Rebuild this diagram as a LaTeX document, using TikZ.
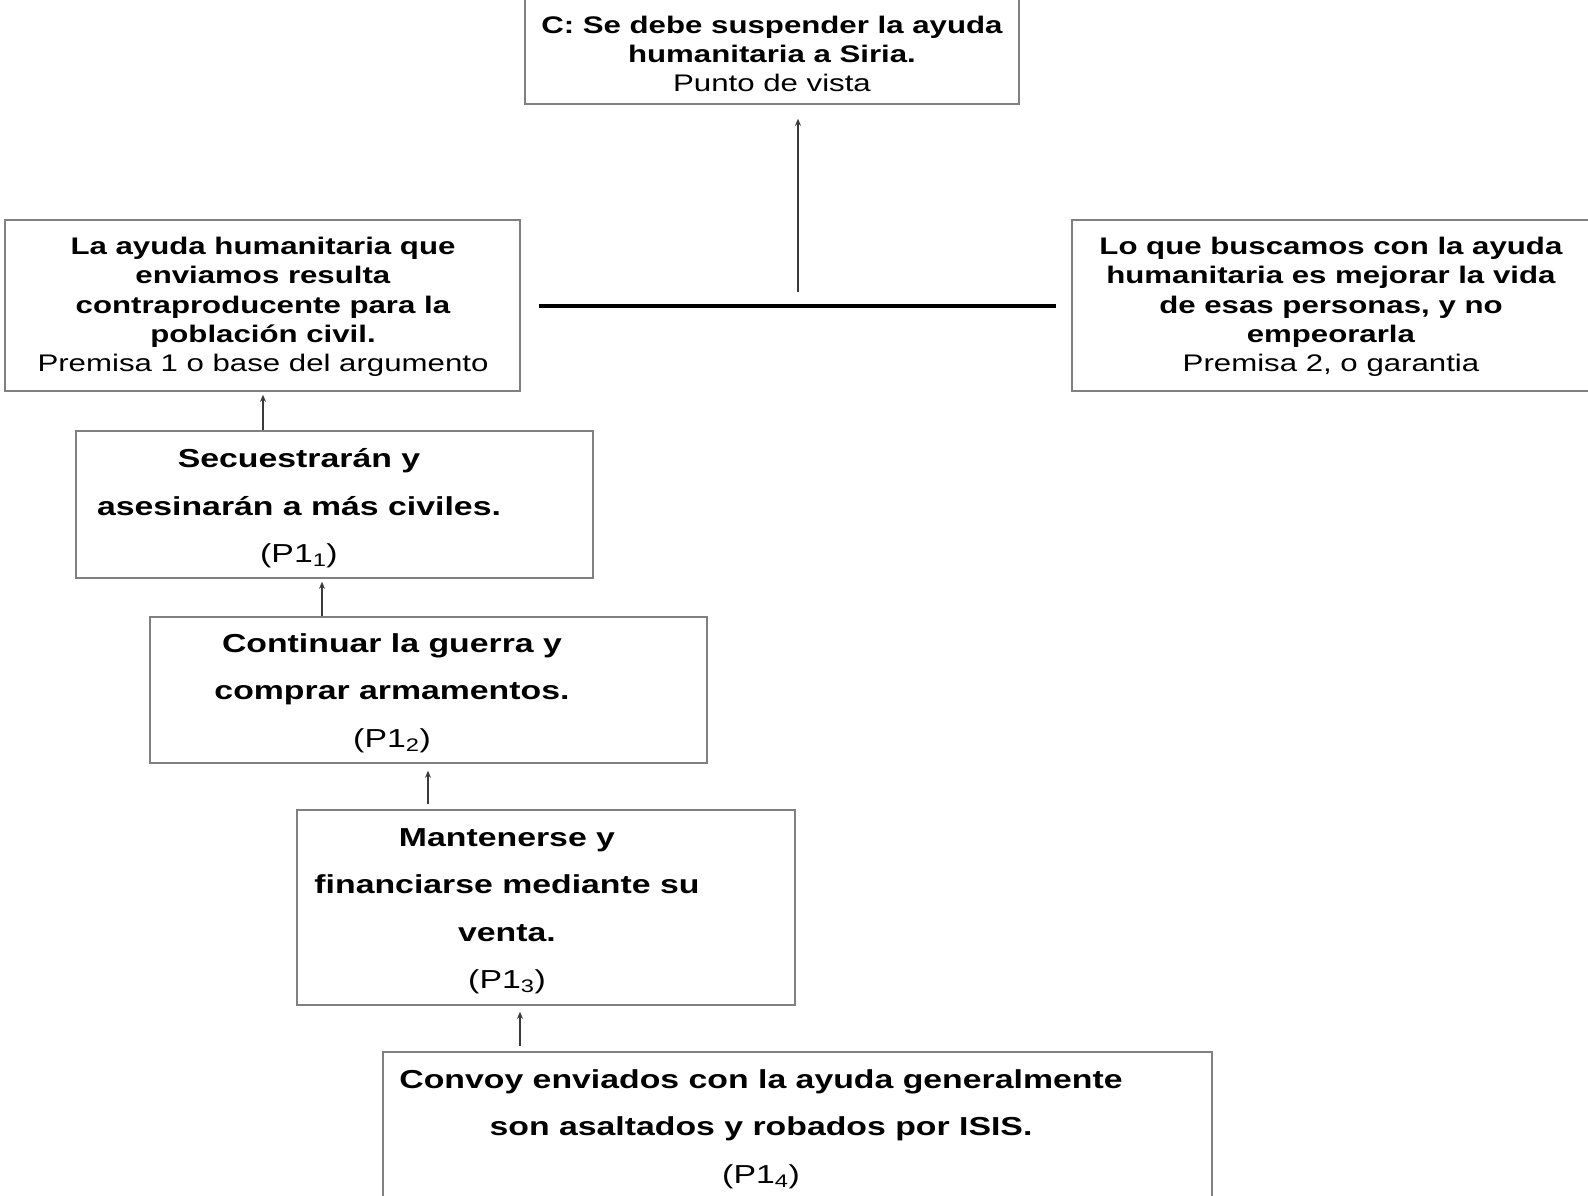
\documentclass[tikz,border=0pt]{standalone}
\usepackage{fontspec}
\setmainfont[FakeStretch=1.3]{Liberation Sans}
\usetikzlibrary{calc,arrows.meta}
\definecolor{boxgray}{HTML}{808080}
\definecolor{arrgray}{HTML}{3A3A3A}
\begin{document}
\begin{tikzpicture}[x=1pt,y=-1pt,
  box/.style={draw=boxgray, line width=1.6pt, rectangle, inner sep=0pt},
  up/.style={align=center, font=\fontsize{24}{29.3}\selectfont, inner sep=0pt},
  low/.style={align=center, font=\fontsize{26}{47.5}\selectfont, inner sep=0pt},
  arr/.style={draw=arrgray, line width=1.3pt, -{Stealth[length=7pt,width=6pt]}}]
\useasboundingbox (0,0) rectangle (1588,1195);
% boxes
\node[box, minimum width=494pt, minimum height=109pt] (C) at (772,49.5) {};
\node[box, minimum width=515pt, minimum height=171pt] (P1) at (262.5,305.5) {};
\node[box, minimum width=528pt, minimum height=171pt] (P2) at (1336,305.5) {};
\node[box, minimum width=517pt, minimum height=147pt] (B1) at (334.5,504.5) {};
\node[box, minimum width=557pt, minimum height=146pt] (B2) at (428.5,690) {};
\node[box, minimum width=498pt, minimum height=195pt] (B3) at (546,907.5) {};
\node[box, minimum width=829pt, minimum height=158pt] (B4) at (797.5,1131) {};
% texts
\node[up] (tC) at (772,54) {\textbf{C: Se debe suspender la ayuda}\\\textbf{humanitaria a Siria.}\\Punto de vista};
\node[up] (tP1) at (263,307) {\textbf{La ayuda humanitaria que}\\\textbf{enviamos resulta}\\\textbf{contraproducente para la}\\\textbf{población civil.}\\Premisa 1 o base del argumento};
\node[up] (tP2) at (1331,307) {\textbf{Lo que buscamos con la ayuda}\\\textbf{humanitaria es mejorar la vida}\\\textbf{de esas personas, y no}\\\textbf{empeorarla}\\Premisa 2, o garantia};
\node[low] (tB1) at (299,508.5) {\textbf{Secuestrarán y}\\\textbf{asesinarán a más civiles.}\\(P1\textsubscript{1})};
\node[low] (tB2) at (392,693) {\textbf{Continuar la guerra y}\\\textbf{comprar armamentos.}\\(P1\textsubscript{2})};
\node[low] (tB3) at (507,911) {\textbf{Mantenerse y}\\\textbf{financiarse mediante su}\\\textbf{venta.}\\(P1\textsubscript{3})};
\node[low] (tB4) at (761,1129) {\textbf{Convoy enviados con la ayuda generalmente}\\\textbf{son asaltados y robados por ISIS.}\\(P1\textsubscript{4})};
% connectors
\draw[line width=4pt, shorten <=18pt, shorten >=15pt] (P1.east) -- (P2.west);
\coordinate (mid) at (798,305.5);
\draw[arr, line width=1.8pt, shorten <=14pt, shorten >=14pt] (mid) -- (mid |- C.south);
\draw[arr, shorten >=3pt] (B1.north -| 263,0) -- (P1.south -| 263,0);
\draw[arr, shorten >=3pt] (B2.north -| 322,0) -- (B1.south -| 322,0);
\draw[arr, shorten <=5pt, shorten >=7pt] (B3.north -| 428,0) -- (B2.south -| 428,0);
\draw[arr, shorten <=5pt, shorten >=6pt] (B4.north -| 520,0) -- (B3.south -| 520,0);
\end{tikzpicture}
\end{document}
